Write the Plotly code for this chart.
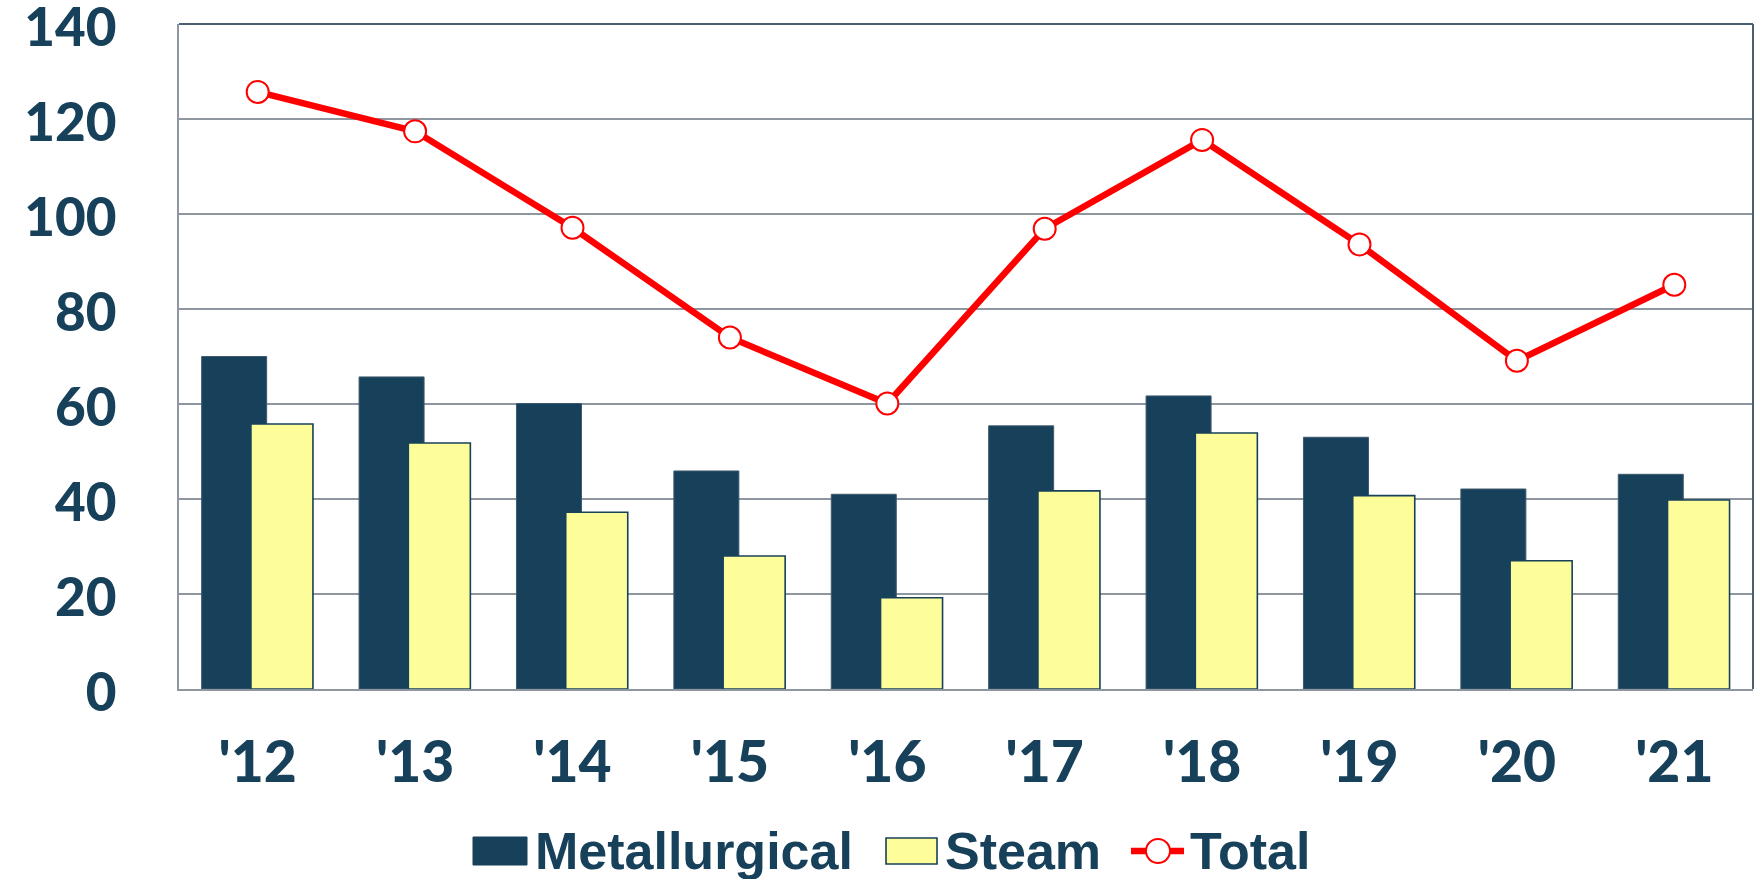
import plotly.graph_objects as go

# Coal production by year (million short tons)
years = ["'12", "'13", "'14", "'15", "'16", "'17", "'18", "'19", "'20", "'21"]
metallurgical = [70.0, 65.7, 60.1, 45.9, 41.0, 55.4, 61.7, 53.0, 42.1, 45.2]
steam = [55.8, 51.8, 37.2, 28.0, 19.2, 41.7, 53.9, 40.7, 27.0, 39.8]
total = [125.7, 117.4, 97.1, 74.0, 60.1, 96.9, 115.6, 93.6, 69.1, 85.1]

NAVY = "#17415A"
YELLOW = "#FDFE99"
RED = "#FF0000"
GRID = "#8E979F"
Y_FONT = dict(family="Lato, Inter, sans-serif", size=53, color=NAVY, weight=900)
X_FONT = dict(family="Lato, Inter, sans-serif", size=57, color=NAVY, weight=900)
LEG_FONT = dict(family="Liberation Sans Narrow, Arial Narrow, Liberation Sans, Arial",
                size=52, color=NAVY, weight="bold")

fig = go.Figure()
fig.add_trace(go.Bar(
    x=years, y=metallurgical, name="Metallurgical",
    marker=dict(color=NAVY, line=dict(color="#3D5A6E", width=1)),
    width=0.413, offset=-0.356, showlegend=False,
))
fig.add_trace(go.Bar(
    x=years, y=steam, name="Steam",
    marker=dict(color=YELLOW, line=dict(color=NAVY, width=1.6)),
    width=0.394, offset=-0.043, showlegend=False,
))
fig.add_trace(go.Scatter(
    x=years, y=total, name="Total", mode="lines+markers",
    line=dict(color=RED, width=6.5),
    marker=dict(symbol="circle", size=22, color="white", line=dict(color=RED, width=2)),
    showlegend=False,
))

W, H = 1758, 879
L, R, T, B = 179, 5, 24, 190
pw, ph = W - L - R, H - T - B


def px(x):
    return (x - L) / pw


def py(y):
    return (H - B - y) / ph


shapes = [
    # darker frame on top and right
    dict(type="line", xref="paper", yref="paper", x0=0, x1=1, y0=1, y1=1,
         line=dict(color="#4A6072", width=2)),
    dict(type="line", xref="paper", yref="paper", x0=1, x1=1, y0=0, y1=1,
         line=dict(color="#4A6072", width=2)),
    # legend swatches
    dict(type="rect", xref="paper", yref="paper",
         x0=px(473), x1=px(527), y0=py(865), y1=py(837),
         fillcolor=NAVY, line=dict(color=NAVY, width=1)),
    dict(type="rect", xref="paper", yref="paper",
         x0=px(886), x1=px(937), y0=py(864), y1=py(838),
         fillcolor=YELLOW, line=dict(color=NAVY, width=1.6)),
    dict(type="line", xref="paper", yref="paper",
         x0=px(1131), x1=px(1184), y0=py(851), y1=py(851),
         line=dict(color=RED, width=6.5)),
    dict(type="circle", xref="paper", yref="paper",
         x0=px(1146), x1=px(1170), y0=py(863), y1=py(839),
         fillcolor="white", line=dict(color=RED, width=2)),
]

annotations = []
for label, x0 in [("Metallurgical", 533), ("Steam", 943), ("Total", 1188)]:
    annotations.append(dict(
        text=label, xref="paper", yref="paper", x=px(x0), y=py(851),
        xanchor="left", yanchor="middle", showarrow=False, font=LEG_FONT,
    ))

fig.update_layout(
    width=W, height=H,
    margin=dict(l=L, r=R, t=T, b=B, autoexpand=False),
    paper_bgcolor="white", plot_bgcolor="white",
    barmode="overlay",
    shapes=shapes,
    annotations=annotations,
    xaxis=dict(
        type="category", range=[-0.5, 9.5], automargin=False,
        showline=True, linecolor=GRID, linewidth=2,
        showgrid=False, ticks="", tickfont=X_FONT,
        ticklabelstandoff=23,
    ),
    yaxis=dict(
        range=[0, 140], dtick=20, tick0=0, automargin=False,
        showline=True, linecolor=GRID, linewidth=2,
        showgrid=True, gridcolor=GRID, gridwidth=1.5,
        zeroline=False, ticks="", tickfont=Y_FONT,
        ticklabelstandoff=50, ticklabelshift=3, ticklabeloverflow="allow",
    ),
)

fig.write_html("out.html")
